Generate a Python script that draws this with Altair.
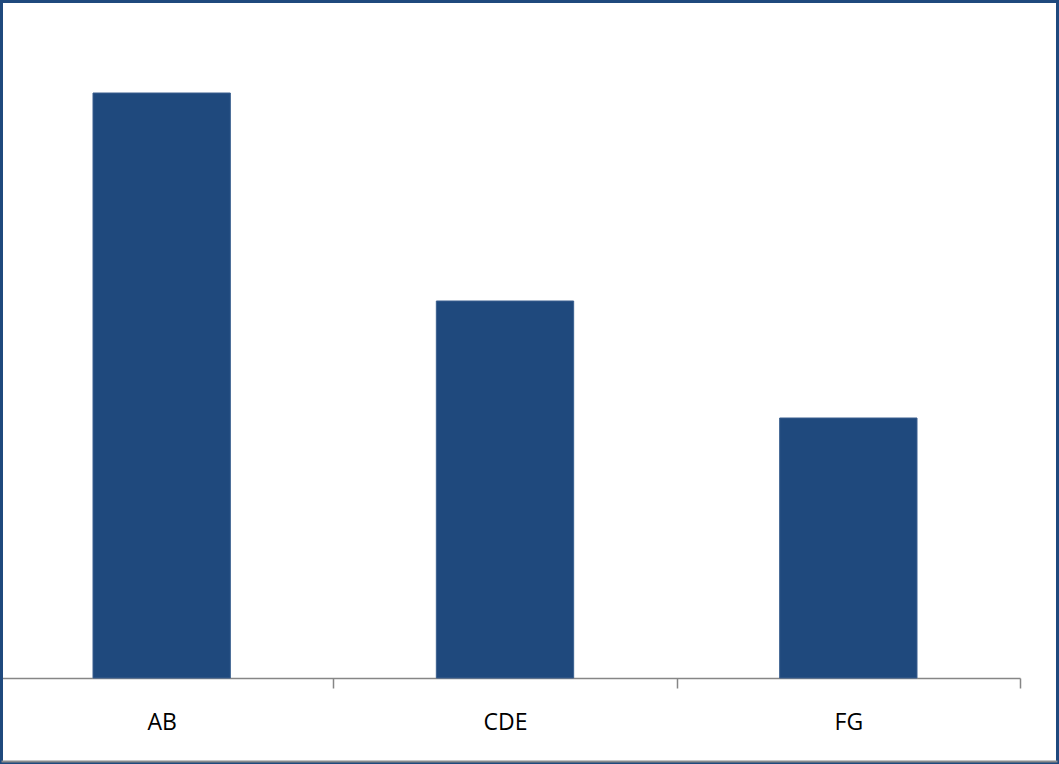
import altair as alt
import pandas as pd

categories = ["AB", "CDE", "FG"]
values = [90, 58, 40]

df = pd.DataFrame({"category": categories, "value": values})

bars = alt.Chart(df).mark_bar(
    color="#1F497D", stroke="#3A5F8F", strokeWidth=1, width=alt.RelativeBandSize(0.4)
).encode(
    x=alt.X(
        "category:N",
        sort=categories,
        title=None,
        scale=alt.Scale(range=[-14, 1016], paddingInner=0, paddingOuter=0),
        axis=alt.Axis(
            labelAngle=0,
            labelFont="Open Sans",
            labelFontSize=23,
            labelColor="#000000",
            labelPadding=34,
            labelBaseline="middle",
            tickBand="extent",
            tickSize=10,
            tickColor="#868686",
            tickWidth=1.5,
            domainColor="#868686",
            domainWidth=1.5,
        ),
    ),
    y=alt.Y("value:Q", scale=alt.Scale(domain=[0, 100]), axis=None),
)

frame = alt.Chart(pd.DataFrame({"k": [0]})).mark_rect(
    fill=None, stroke="#1F497D", strokeWidth=3
).encode(
    x=alt.value(-2.5), x2=alt.value(1053.5), y=alt.value(-26.5), y2=alt.value(734.5)
)

bottom = alt.Chart(pd.DataFrame({"k": [0]})).mark_rule(
    color="#8C8C8C", strokeWidth=2
).encode(
    x=alt.value(-2.5), x2=alt.value(1053.5), y=alt.value(733.5)
)

chart = alt.layer(bars, frame, bottom).properties(
    width=1016,
    height=650,
    padding={"left": 4, "top": 28, "right": 39, "bottom": 86},
    autosize=alt.AutoSizeParams(type="none"),
    background="#FFFFFF",
).configure_view(stroke=None)

chart.save("out.html", embed_options={"renderer": "svg", "actions": False})
